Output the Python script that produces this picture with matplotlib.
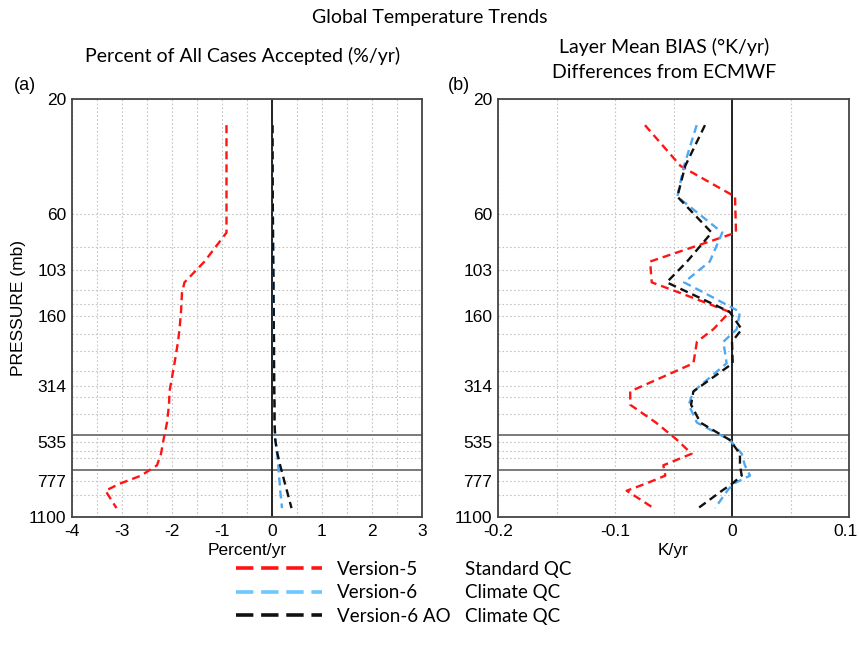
import matplotlib
matplotlib.use('Agg')
import matplotlib.pyplot as plt
from matplotlib.lines import Line2D
from matplotlib.ticker import FixedLocator, NullFormatter
from matplotlib.transforms import ScaledTranslation

plt.rcParams['lines.scale_dashes'] = False

# ---------------- data ----------------
pressure = [25.7, 38, 51, 72, 95, 116, 128, 154, 182, 205, 252, 330, 375, 445,
            525, 600, 670, 740, 800, 855, 1010]

pct_v5 = [-0.91, -0.91, -0.91, -0.91, -1.35, -1.75, -1.80, -1.82, -1.85, -1.88,
          -1.95, -2.05, -2.06, -2.10, -2.17, -2.22, -2.30, -2.62, -3.05, -3.33, -3.11]
pct_v6 = [0.01, 0.012, 0.015, 0.02, 0.025, 0.03, 0.03, 0.035, 0.035, 0.04,
          0.04, 0.045, 0.05, 0.05, 0.07, 0.10, 0.125, 0.14, 0.155, 0.165, 0.20]
pct_v6ao = [0.01, 0.012, 0.015, 0.02, 0.025, 0.03, 0.03, 0.035, 0.035, 0.04,
            0.04, 0.045, 0.05, 0.05, 0.065, 0.11, 0.163, 0.218, 0.26, 0.298, 0.39]

bias_v5 = [-0.0744, -0.044, 0.0026, 0.0034, -0.070, -0.0686, -0.045, -0.002, -0.016,
           -0.030, -0.033, -0.087, -0.087, -0.065, -0.047, -0.0345, -0.0587, -0.057,
           -0.074, -0.090, -0.067]
bias_v6 = [-0.0302, -0.041, -0.0467, -0.0083, -0.019, -0.041, -0.024, 0.0068, 0.004,
           -0.0074, -0.0046, -0.033, -0.037, -0.030, -0.002, 0.0083, 0.011, 0.0154,
           0.001, -0.004, -0.0145]
bias_v6ao = [-0.0231, -0.040, -0.0467, -0.0174, -0.0384, -0.0558, -0.037, -0.002, 0.0083,
             0.0, 0.0006, -0.033, -0.035, -0.027, -0.002, 0.0068, 0.0068, 0.0083,
             0.0, -0.0086, -0.0288]

tick_levels = [20, 60, 103, 160, 314, 535, 777, 1100]
grid_levels = [83, 125, 143, 190, 224, 272, 349, 411, 583, 624, 889]
thick_levels = [500, 700]

series_names = ['Version-5', 'Version-6', 'Version-6 AO']
qc_names = ['Standard QC', 'Climate QC', 'Climate QC']
colors = ['#ff1414', '#4fa8f2', '#111111']
legend_colors = ['#ff1414', '#6cc8ff', '#111111']

# ---------------- figure ----------------
fig = plt.figure(figsize=(8.59, 6.49), dpi=100)
H = 649.0
W = 859.0
axa = fig.add_axes([72 / W, 1 - 517 / H, 350 / W, 418 / H])
axb = fig.add_axes([498 / W, 1 - 517 / H, 351 / W, 418 / H])

tick_font = dict(family='Liberation Sans', size=12.5)


def style_axis(ax, xlim, xmajor, xminor):
    ax.set_yscale('log')
    ax.set_ylim(1100, 20)
    ax.yaxis.set_major_locator(FixedLocator(tick_levels))
    ax.set_yticklabels([str(t) for t in tick_levels], **tick_font)
    ax.yaxis.set_minor_locator(FixedLocator(grid_levels))
    ax.yaxis.set_minor_formatter(NullFormatter())
    ax.set_xlim(*xlim)
    ax.xaxis.set_major_locator(FixedLocator(xmajor))
    ax.xaxis.set_minor_locator(FixedLocator(xminor))
    ax.set_xticklabels([('%g' % v) for v in xmajor], **tick_font)
    ax.tick_params(which='both', length=0)
    ax.tick_params(axis='y', pad=4)
    ax.tick_params(axis='x', pad=5)
    ax.grid(which='both', color='#c4c4c4', linestyle=(0, (1.2, 1.6)), linewidth=0.8)
    for s in ax.spines.values():
        s.set_color('#444444')
        s.set_linewidth(1.3)
    for lev in thick_levels:
        ax.axhline(lev, color='#7a7a7a', linewidth=1.4, zorder=2)
    ax.axvline(0, color='#222222', linewidth=1.4, zorder=2)


style_axis(axa, (-4, 3), [-4, -3, -2, -1, 0, 1, 2, 3],
           [-3.5, -2.5, -1.5, -0.5, 0.5, 1.5, 2.5])
style_axis(axb, (-0.2, 0.1), [-0.2, -0.1, 0, 0.1],
           [-0.15, -0.05, 0.05])

# keep the last tick label of panel (b) inside the canvas
last = axb.get_xticklabels()[-1]
last.set_transform(last.get_transform() + ScaledTranslation(-4 / 100, 0, fig.dpi_scale_trans))

dash = (0, (5.8, 3.6))
for ax, data in ((axa, (pct_v5, pct_v6, pct_v6ao)), (axb, (bias_v5, bias_v6, bias_v6ao))):
    for vals, col in zip(data, colors):
        ax.plot(vals, pressure, color=col, linestyle=dash, linewidth=1.7, zorder=3)

axa.set_xlabel('Percent/yr', family='Liberation Sans', size=12.5, labelpad=3)
axb.set_xlabel('K/yr', family='Liberation Sans', size=12.5, labelpad=3)
axa.set_ylabel('PRESSURE (mb)', family='Liberation Sans', size=12.5, labelpad=2)

title_font = dict(family='Lato', size=14)
fig.text(430 / W, 1 - 17 / H, 'Global Temperature Trends', ha='center', va='center', **title_font)
fig.text(243 / W, 1 - 56 / H, 'Percent of All Cases Accepted (%/yr)', ha='center', va='center', **title_font)
fig.text(664 / W, 1 - 47 / H, 'Layer Mean BIAS (°K/yr)', ha='center', va='center', **title_font)
fig.text(664 / W, 1 - 73 / H, 'Differences from ECMWF', ha='center', va='center', **title_font)
fig.text(25 / W, 1 - 86 / H, '(a)', ha='center', va='center', family='Liberation Sans', size=13)
fig.text(459 / W, 1 - 86 / H, '(b)', ha='center', va='center', family='Liberation Sans', size=13)

# ---------------- legend ----------------
handles = [Line2D([], [], color=c, linestyle=(0, (12.5, 5.6)), linewidth=2.6) for c in legend_colors]
leg_kw = dict(loc='upper left', frameon=False, prop=dict(family='Lato', size=13.5),
              labelspacing=0.34, borderpad=0, borderaxespad=0)
leg1 = fig.legend(handles, series_names, bbox_to_anchor=(236 / W, 1 - 561 / H),
                  handlelength=4.6, handletextpad=0.8, **leg_kw)
blank = [Line2D([], [], linestyle='none') for _ in qc_names]
leg2 = fig.legend(blank, qc_names, bbox_to_anchor=(465 / W, 1 - 561 / H),
                  handlelength=0, handletextpad=0, **leg_kw)

fig.savefig('out.png', dpi=100)
